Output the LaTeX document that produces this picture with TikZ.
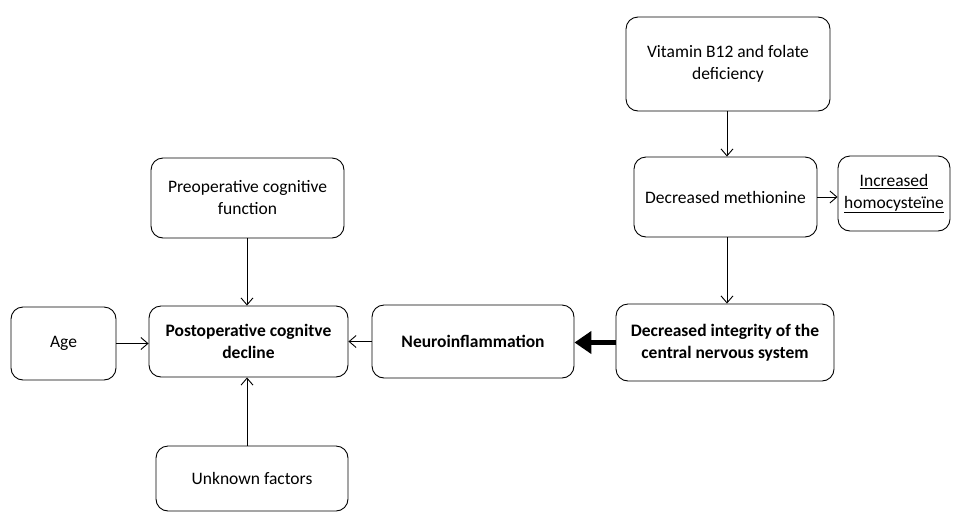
\documentclass[tikz,border=0pt]{standalone}
\usepackage{fontspec}
\setmainfont{Carlito}
\usetikzlibrary{arrows.meta}
\begin{document}
\begin{tikzpicture}[x=1pt,y=-1pt,
  box/.style={draw, line width=0.9pt, rounded corners=12pt, align=center, font=\fontsize{17.5}{22}\selectfont, inner sep=0pt},
  boldbox/.style={box, font=\fontsize{17.5}{22}\selectfont\bfseries},
  conn/.style={line width=0.9pt, -{Straight Barb[length=7pt,width=12pt]}},
  thick conn/.style={line width=5pt, -{Triangle[length=17pt,width=22pt]}}]
\useasboundingbox (0,0) rectangle (953,512);
\node[box, minimum width=204pt, minimum height=94pt] (vit) at (728,64) {Vitamin B12 and folate\\deficiency};
\node[box, minimum width=183pt, minimum height=80pt] (met) at (725.5,197) {Decreased methionine};
\node[box, minimum width=112pt, minimum height=75pt] (hom) at (894,193.5) {\underline{Increased}\\\underline{homocysteïne}};
\node[boldbox, minimum width=218pt, minimum height=77pt] (cns) at (725,342.5) {Decreased integrity of the\\central nervous system};
\node[boldbox, minimum width=202pt, minimum height=73pt] (neu) at (473,341.5) {Neuroinflammation};
\node[boldbox, minimum width=199pt, minimum height=71pt] (poc) at (248.5,341.5) {Postoperative cognitve\\decline};
\node[box, minimum width=105pt, minimum height=73pt] (age) at (63.5,343.5) {Age};
\node[box, minimum width=193pt, minimum height=80pt] (pre) at (247.5,198) {Preoperative cognitive\\function};
\node[box, minimum width=192pt, minimum height=65pt] (unk) at (252,478.5) {Unknown factors};
\draw[conn] (vit.south -| 727,0) -- (met.north -| 727,0);
\draw[conn] (met.south -| 727,0) -- (cns.north -| 727,0);
\draw[conn] (met.east) -- (hom.west |- met.east);
\draw[thick conn] (cns.west) -- (neu.east |- cns.west);
\draw[conn] (neu.west) -- (poc.east |- neu.west);
\draw[conn] (age.east) -- (poc.west |- age.east);
\draw[conn] (pre.south -| 247,0) -- (poc.north -| 247,0);
\draw[conn] (unk.north -| 247,0) -- (poc.south -| 247,0);
\end{tikzpicture}
\end{document}
